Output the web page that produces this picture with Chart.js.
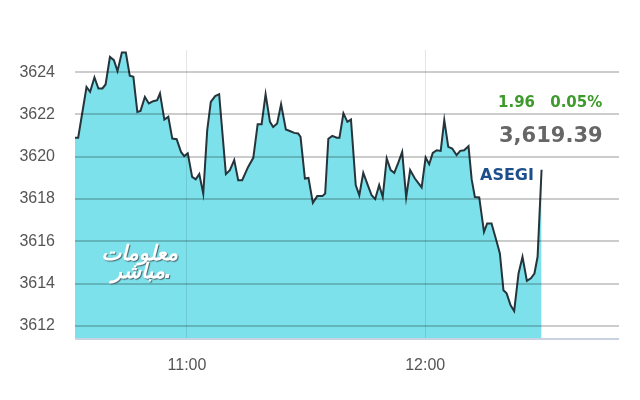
<!DOCTYPE html>
<html>
<head>
<meta charset="utf-8">
<script src="https://cdn.jsdelivr.net/npm/chart.js@4"></script>
<style>
  html, body { margin: 0; padding: 0; background: #fff; overflow: hidden; }
  #wrap { position: relative; width: 640px; height: 400px; }
  #indexChart { display: block; }
  .note { position: absolute; font-family: "DejaVu Sans", sans-serif; font-weight: bold; line-height: 1; white-space: nowrap; }
  #chg { left: 498px; top: 95px; font-size: 15px; color: #3d9a2b; word-spacing: 10px; }
  #last { left: 499px; top: 125px; font-size: 21px; color: #666; }
  #sym { left: 480px; top: 167px; font-size: 16px; color: #1c4f8c; }
  .logo { position: absolute; font-family: "DejaVu Sans", sans-serif; font-weight: bold; font-style: italic; color: #fff; text-shadow: 1px 1px 1px #4a6a70; line-height: 1; white-space: nowrap; }
</style>
</head>
<body>
<div id="wrap">
  <canvas id="indexChart" width="640" height="400"></canvas>
  <div class="note" id="chg">1.96 0.05%</div>
  <div class="note" id="last">3,619.39</div>
  <div class="note" id="sym">ASEGI</div>
  <div class="logo" dir="rtl" style="right:462px; top:243px; font-size:21px;">معلومات</div>
  <div class="logo" dir="rtl" style="right:475px; top:261px; font-size:21px;">مباشر</div>
  <div class="logo" style="left:164px; top:261px; font-size:21px;">.</div>
</div>
<script>
// minutes after 10:00
const times = [31.8, 32.6, 34.7, 35.6, 36.7, 37.7, 38.7, 39.5, 40.6, 41.6, 42.5, 43.6, 44.6, 45.6, 46.5, 47.5, 48.3, 49.4, 50.4, 51.5, 52.5, 53.2,
  54.3, 55.3, 56.3, 57.4, 58.5, 59.3, 60.2, 61.3, 62.2, 63.1, 64.1, 65.1, 66.0, 67.1, 68.1, 69.8, 70.8, 71.9, 72.9, 73.9,
  75.4, 76.7, 77.8, 78.8, 79.8, 80.9, 81.7, 82.7, 83.7, 84.9, 85.9, 87.0, 88.0, 88.6, 89.7, 90.6, 91.7, 92.8, 94.1, 94.8,
  95.6, 96.6, 97.7, 98.4, 99.4, 100.4, 101.3, 102.5, 103.4, 104.4, 105.7, 106.5, 107.4, 108.4, 109.3, 110.3, 111.3, 112.2,
  113.2, 114.2, 115.2, 116.2, 117.4, 119.1, 120.1, 121.0, 121.9, 122.9, 123.9, 124.8, 125.8, 126.8, 127.9, 128.8, 129.8,
  130.9, 131.7, 132.5, 133.6, 134.8, 135.6, 136.7, 138.0, 138.8, 139.7, 140.5, 141.5, 142.4, 143.5, 144.5, 145.6, 146.6,
  147.5, 148.3, 149.3];
const values = [3620.9, 3620.9, 3623.3, 3623.07, 3623.75, 3623.23, 3623.23, 3623.42, 3624.72, 3624.57, 3624.05, 3624.93, 3624.93, 3623.83, 3623.78, 3622.12, 3622.17, 3622.83, 3622.52, 3622.63, 3622.68, 3623.0,
  3621.76, 3621.89, 3620.86, 3620.83, 3620.23, 3620.03, 3620.16, 3619.05, 3618.93, 3619.18, 3618.26, 3621.26, 3622.6, 3622.87, 3622.96, 3619.18, 3619.37, 3619.84, 3618.89, 3618.89,
  3619.52, 3619.95, 3621.54, 3621.54, 3622.96, 3621.65, 3621.41, 3621.57, 3622.49, 3621.29, 3621.22, 3621.13, 3621.1, 3620.94, 3618.97, 3619.0, 3617.82, 3618.14, 3618.14, 3618.26,
  3620.85, 3620.99, 3620.9, 3620.9, 3622.05, 3621.65, 3621.76, 3618.66, 3618.18, 3619.24, 3618.58, 3618.18, 3618.0, 3618.66, 3618.1, 3619.92, 3619.37, 3619.24,
  3619.71, 3620.23, 3618.08, 3619.37, 3618.97, 3618.55, 3619.97, 3619.65, 3620.18, 3620.31, 3620.28, 3621.73, 3620.47, 3620.39, 3620.08, 3620.28, 3620.31,
  3620.5, 3618.93, 3618.1, 3618.08, 3616.45, 3616.85, 3616.85, 3615.98, 3615.43, 3613.69, 3613.54, 3612.98, 3612.71, 3614.48, 3615.27, 3614.13, 3614.25,
  3614.48, 3615.27, 3619.39];

const yTicks = [3612, 3614, 3616, 3618, 3620, 3622, 3624];
const xTickValues = [60, 120];
const xTickLabels = ['11:00', '12:00'];

const points = times.map((t, i) => ({ x: t, y: values[i] }));
const axisFont = { family: '"Liberation Sans", sans-serif', size: 16 };

// bottom axis line (the built-in border misbehaves when grid z > 0)
const baseLine = {
  id: 'baseLine',
  afterDraw(chart) {
    const { ctx, chartArea } = chart;
    ctx.save();
    ctx.strokeStyle = '#c8d2e2';
    ctx.lineWidth = 2;
    ctx.beginPath();
    ctx.moveTo(chartArea.left, chartArea.bottom + 1);
    ctx.lineTo(chartArea.right, chartArea.bottom + 1);
    ctx.stroke();
    ctx.restore();
  },
};

const ctx = document.getElementById('indexChart');
new Chart(ctx, {
  type: 'line',
  data: {
    datasets: [{
      label: 'ASEGI',
      data: points,
      borderColor: '#26343b',
      borderWidth: 2,
      backgroundColor: 'rgb(124, 225, 234)',
      fill: 'start',
      pointRadius: 0,
      tension: 0,
    }],
  },
  plugins: [baseLine],
  options: {
    responsive: false,
    animation: false,
    layout: { padding: { left: 20, right: 21, top: 50, bottom: 22 } },
    plugins: { legend: { display: false }, tooltip: { enabled: false } },
    scales: {
      x: {
        type: 'linear',
        min: 31.8,
        max: 168.8,
        afterBuildTicks: (axis) => { axis.ticks = xTickValues.map(v => ({ value: v })); },
        afterFit: (axis) => { axis.height = 40; },
        ticks: {
          font: axisFont,
          color: '#555',
          padding: 18,
          maxRotation: 0,
          callback: (v) => xTickLabels[xTickValues.indexOf(v)],
        },
        grid: { z: 1, color: 'rgba(0,0,0,0.1)', lineWidth: 1, drawTicks: false },
        border: { display: false },
      },
      y: {
        min: 3611.43,
        max: 3625.05,
        afterBuildTicks: (axis) => { axis.ticks = yTicks.map(v => ({ value: v })); },
        afterFit: (axis) => { axis.width = 55; },
        ticks: { font: axisFont, color: '#555', padding: 20, callback: (v) => String(v) },
        grid: { z: 1, color: 'rgba(0,0,0,0.2)', lineWidth: 2, drawTicks: false },
        border: { display: false },
      },
    },
  },
});
</script>
</body>
</html>
